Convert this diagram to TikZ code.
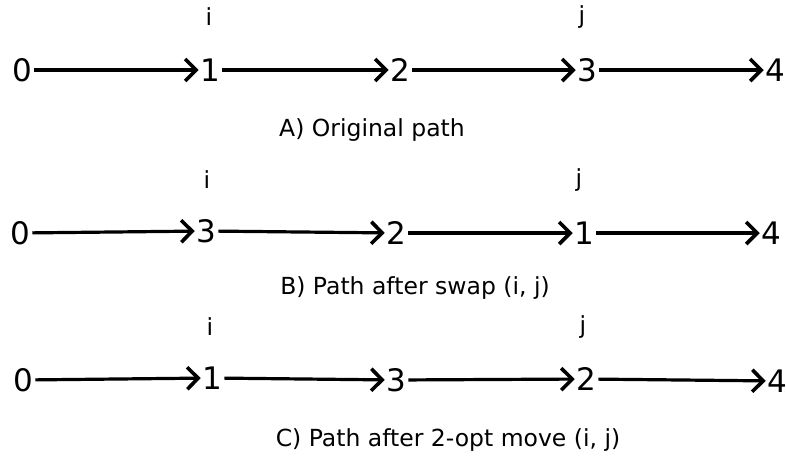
\documentclass[tikz,border=0pt]{standalone}
\usepackage{fontspec}
\setmainfont{DejaVu Sans}
\usetikzlibrary{arrows.meta}
\begin{document}
\begin{tikzpicture}[x=1pt,y=-1pt,
  num/.style={inner sep=1.2pt,font=\fontsize{31}{34}\selectfont},
  lbl/.style={inner sep=0pt,font=\fontsize{23.5}{26}\selectfont},
  captxt/.style={inner sep=0pt,font=\fontsize{23.5}{26}\selectfont},
  arr/.style={line width=3.2pt,-{Straight Barb[length=11pt,width=22pt,line width=3.6pt]},shorten <=1pt}]
\useasboundingbox (0,0) rectangle (786,461);
% Row A
\node[num] (a0) at (22,70) {0};
\node[num] (a1) at (210,70) {1};
\node[num] (a2) at (400,70) {2};
\node[num] (a3) at (587,70) {3};
\node[num] (a4) at (775,70) {4};
\node[lbl] (ai) at (209,17) {i};
\node[lbl] (aj) at (582,17) {j};
\node[captxt] (ac) at (372,130) {A) Original path};
\draw[arr] (a0) -- (a1);
\draw[arr] (a1) -- (a2);
\draw[arr] (a2) -- (a3);
\draw[arr] (a3) -- (a4);
% Row B
\node[num] (b0) at (20,233) {0};
\node[num] (b3) at (206,231) {3};
\node[num] (b2) at (396,233) {2};
\node[num] (b1) at (584,233) {1};
\node[num] (b4) at (771,233) {4};
\node[lbl] (bi) at (207,180) {i};
\node[lbl] (bj) at (579,180) {j};
\node[captxt] (bc) at (415,288) {B) Path after swap (i, j)};
\draw[arr] (b0) -- (b3);
\draw[arr] (b3) -- (b2);
\draw[arr] (b2) -- (b1);
\draw[arr] (b1) -- (b4);
% Row C
\node[num] (c0) at (23,380) {0};
\node[num] (c1) at (212,378) {1};
\node[num] (c3) at (396,380) {3};
\node[num] (c2) at (586,379) {2};
\node[num] (c4) at (777,381) {4};
\node[lbl] (ci) at (210,327) {i};
\node[lbl] (cj) at (583,327) {j};
\node[captxt] (cc) at (448,440) {C) Path after 2-opt move (i, j)};
\draw[arr] (c0) -- (c1);
\draw[arr] (c1) -- (c3);
\draw[arr] (c3) -- (c2);
\draw[arr] (c2) -- (c4);
\end{tikzpicture}
\end{document}
